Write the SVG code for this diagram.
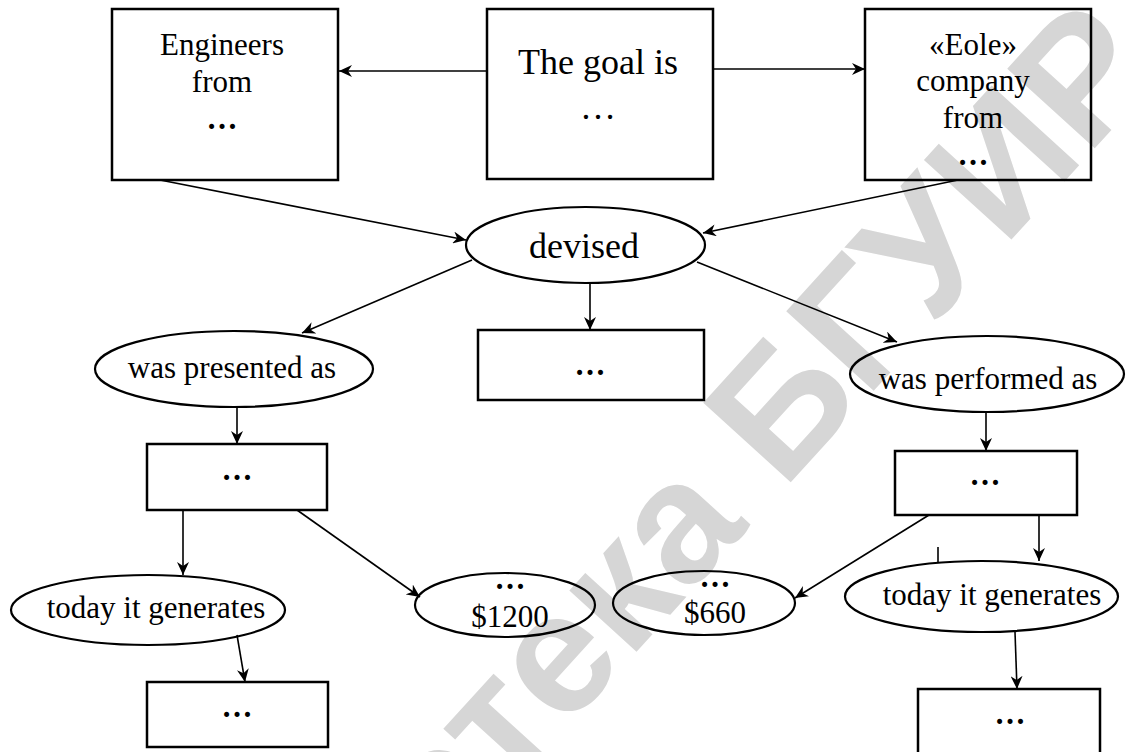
<svg xmlns="http://www.w3.org/2000/svg" width="1127" height="752" viewBox="0 0 1127 752">
<style>
.bx{fill:none;stroke:#000;stroke-width:2.5}
.el{fill:none;stroke:#000;stroke-width:2.2}
.t{font-family:"Liberation Serif","Times New Roman",serif;font-size:31px;fill:#000;text-anchor:middle}
.big{font-size:36px}
.d{font-weight:bold}
.cn line{stroke:#000;stroke-width:1.6}
.wm{font-family:"Liberation Sans",Arial,sans-serif;font-weight:bold;font-size:172px;fill:#d6d6d6;text-anchor:middle}
</style>
<defs>
<marker id="ah" markerUnits="userSpaceOnUse" markerWidth="14" markerHeight="12" refX="13" refY="6" orient="auto">
<path d="M0,0 L13,6 L0,12 L4,6 z" fill="#000"/>
</marker>
</defs>
<rect width="1127" height="752" fill="#fff"/>
<text class="wm" transform="translate(618,672) rotate(-47.7)">Библиотека БГУИР</text>
<g id="connectors" class="cn">
<line x1="487" y1="71" x2="339" y2="71" marker-end="url(#ah)"/>
<line x1="713" y1="69" x2="865" y2="69" marker-end="url(#ah)"/>
<line x1="160" y1="180" x2="466" y2="240" marker-end="url(#ah)"/>
<line x1="958" y1="180" x2="703" y2="233" marker-end="url(#ah)"/>
<line x1="590" y1="283" x2="590" y2="330" marker-end="url(#ah)"/>
<line x1="472" y1="260" x2="302" y2="333" marker-end="url(#ah)"/>
<line x1="697" y1="262" x2="897" y2="342" marker-end="url(#ah)"/>
<line x1="237" y1="407" x2="237" y2="444" marker-end="url(#ah)"/>
<line x1="986" y1="412" x2="986" y2="451" marker-end="url(#ah)"/>
<line x1="183" y1="510" x2="183" y2="575" marker-end="url(#ah)"/>
<line x1="297" y1="510" x2="420" y2="597" marker-end="url(#ah)"/>
<line x1="237" y1="635" x2="245" y2="682" marker-end="url(#ah)"/>
<line x1="929" y1="515" x2="795" y2="598" marker-end="url(#ah)"/>
<line x1="1039" y1="516" x2="1039" y2="561" marker-end="url(#ah)"/>
<line x1="938" y1="547" x2="938" y2="563"/>
<line x1="1015" y1="632" x2="1017" y2="689" marker-end="url(#ah)"/>
</g>
<g id="n-engineers">
<rect class="bx" x="112" y="9" width="226" height="171"/>
<text class="t" x="222" y="55">Engineers</text>
<text class="t" x="222" y="92">from</text>
<text class="t d" x="222" y="129">…</text>
</g>
<g id="n-goal">
<rect class="bx" x="487" y="9" width="226" height="170"/>
<text class="t big" x="598" y="74">The goal is</text>
<text class="t big" x="598" y="119">…</text>
</g>
<g id="n-eole">
<rect class="bx" x="865" y="9" width="226" height="171"/>
<text class="t" x="973" y="55">«Eole»</text>
<text class="t" x="973" y="91">company</text>
<text class="t" x="973" y="128">from</text>
<text class="t d" x="973" y="165">…</text>
</g>
<g id="n-devised">
<ellipse class="el" cx="585.5" cy="245" rx="119.5" ry="38"/>
<text class="t big" x="584" y="258">devised</text>
</g>
<g id="n-middle">
<rect class="bx" x="478" y="330" width="226" height="70"/>
<text class="t d" x="590" y="375">…</text>
</g>
<g id="n-presented">
<ellipse class="el" cx="234" cy="369" rx="139" ry="38"/>
<text class="t" x="232" y="378">was presented as</text>
</g>
<g id="n-box-l1">
<rect class="bx" x="147" y="444" width="180" height="66"/>
<text class="t d" x="237" y="480">…</text>
</g>
<g id="n-performed">
<ellipse class="el" cx="987" cy="374" rx="137" ry="38"/>
<text class="t" x="988" y="389">was performed as</text>
</g>
<g id="n-box-r1">
<rect class="bx" x="895" y="451" width="182" height="64"/>
<text class="t d" x="985" y="485">…</text>
</g>
<g id="n-today-l">
<ellipse class="el" cx="148" cy="610" rx="137" ry="35"/>
<text class="t" x="156" y="618">today it generates</text>
</g>
<g id="n-1200">
<ellipse class="el" cx="505" cy="605" rx="90" ry="32"/>
<text class="t d" x="510" y="589">…</text>
<text class="t" x="510" y="627">$1200</text>
</g>
<g id="n-660">
<ellipse class="el" cx="704" cy="603" rx="91" ry="32"/>
<text class="t d" x="715" y="587">…</text>
<text class="t" x="715" y="623">$660</text>
</g>
<g id="n-today-r">
<ellipse class="el" cx="981.5" cy="596.5" rx="136.5" ry="35.5"/>
<text class="t" x="992" y="605">today it generates</text>
</g>
<g id="n-box-l2">
<rect class="bx" x="147" y="682" width="181" height="65"/>
<text class="t d" x="237" y="717">…</text>
</g>
<g id="n-box-r2">
<rect class="bx" x="918" y="689" width="182" height="80"/>
<text class="t d" x="1010" y="724">…</text>
</g>
</svg>
